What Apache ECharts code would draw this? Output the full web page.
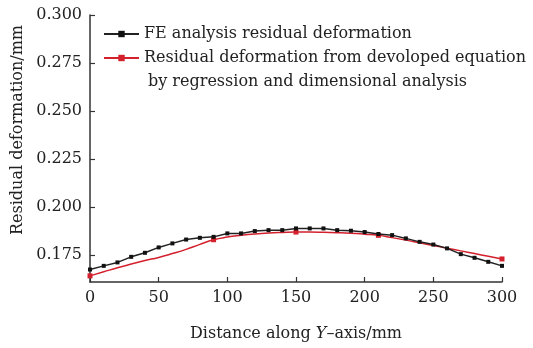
<!DOCTYPE html>
<html>
<head>
<meta charset="utf-8">
<script src="https://cdn.jsdelivr.net/npm/echarts@6/dist/echarts.min.js"></script>
<style>
  html, body { margin: 0; padding: 0; background: #fff; }
  #chart { width: 533px; height: 348px; }
</style>
</head>
<body>
<div id="chart"></div>
<script>
// distance along Y axis, mm
const feX = [0, 10, 20, 30, 40, 50, 60, 70, 80, 90, 100, 110, 120, 130, 140, 150,
  160, 170, 180, 190, 200, 210, 220, 230, 240, 250, 260, 270, 280, 290, 300]
// FE residual deformation, mm
const feY = [0.1675, 0.1694, 0.1712, 0.1741, 0.1762, 0.1790, 0.1811, 0.1831, 0.1840, 0.1845,
  0.1863, 0.1863, 0.1875, 0.1880, 0.1880, 0.1889, 0.1889, 0.1889, 0.1880, 0.1877,
  0.1870, 0.1860, 0.1854, 0.1837, 0.1819, 0.1805, 0.1785, 0.1755, 0.1736, 0.1715, 0.1694]
// equation curve
const eqX = feX
const eqY = [0.1642, 0.1663, 0.1684, 0.1704, 0.1722, 0.1738, 0.1758, 0.1780, 0.1806, 0.1830,
  0.1844, 0.1853, 0.1860, 0.1865, 0.1868, 0.1870, 0.1870, 0.1869, 0.1867, 0.1864,
  0.1859, 0.1853, 0.1841, 0.1828, 0.1814, 0.1800, 0.1786, 0.1772, 0.1758, 0.1744, 0.1730]
const eqMarkX = [0, 90, 150, 210, 300]
const yTicks = [0.175, 0.200, 0.225, 0.250, 0.275, 0.300]

const font = 'DejaVu Serif'
const axisColor = '#333'

const chart = echarts.init(document.getElementById('chart'))
chart.setOption({
  animation: false,
  grid: { left: 90, right: 31, top: 15, bottom: 66 },
  legend: {
    orient: 'vertical',
    left: 103,
    top: 22,
    padding: 0,
    itemWidth: 35,
    itemHeight: 8,
    itemGap: 0,
    textStyle: { fontFamily: font, fontSize: 16, color: '#222', lineHeight: 24 },
    data: ['FE analysis residual deformation', 'Residual deformation from devoloped equation']
  },
  graphic: [
    {
      type: 'text', left: 148, top: 74,
      style: { text: 'by regression and dimensional analysis', font: '16px "DejaVu Serif"', fill: '#222' }
    },
    {
      type: 'text', x: 18, y: 130, rotation: Math.PI / 2,
      style: { text: 'Residual deformation/mm', font: '16px "DejaVu Serif"', fill: '#222',
        align: 'center', verticalAlign: 'middle' }
    }
  ],
  xAxis: {
    type: 'value',
    min: 0, max: 300, interval: 50,
    name: '{a|Distance along }{i|Y}{a|–axis/mm}',
    nameLocation: 'middle',
    nameGap: 44,
    nameTextStyle: {
      rich: {
        a: { fontFamily: font, fontSize: 16, color: '#222' },
        i: { fontFamily: font, fontSize: 16, color: '#222', fontStyle: 'italic' }
      }
    },
    axisLine: { lineStyle: { color: axisColor, width: 1.5 } },
    axisTick: { inside: true, length: 5, lineStyle: { color: axisColor, width: 1.2 } },
    axisLabel: { margin: 8, fontFamily: font, fontSize: 16, color: '#222' },
    splitLine: { show: false }
  },
  yAxis: {
    type: 'value',
    min: 0.161, max: 0.300,
    axisLine: { show: true, lineStyle: { color: axisColor, width: 1.5 } },
    axisTick: { show: true, inside: true, length: 5, customValues: yTicks,
      lineStyle: { color: axisColor, width: 1.2 } },
    axisLabel: { margin: 8, fontFamily: font, fontSize: 16, color: '#222',
      customValues: yTicks, formatter: v => v.toFixed(3) },
    splitLine: { show: false }
  },
  series: [
    {
      name: 'FE analysis residual deformation',
      type: 'line',
      data: feX.map((x, i) => [x, feY[i]]),
      symbol: 'rect',
      symbolSize: 4,
      color: '#111',
      lineStyle: { width: 1.5, color: '#222' },
      z: 3
    },
    {
      name: 'Residual deformation from devoloped equation',
      type: 'line',
      smooth: true,
      data: eqX.map((x, i) => ({
        value: [x, eqY[i]],
        symbol: eqMarkX.includes(x) ? 'rect' : 'none'
      })),
      symbol: 'rect',
      symbolSize: 5,
      showAllSymbol: true,
      color: '#d4202c',
      lineStyle: { width: 1.5, color: '#d4202c' },
      z: 2
    }
  ]
})
</script>
</body>
</html>
